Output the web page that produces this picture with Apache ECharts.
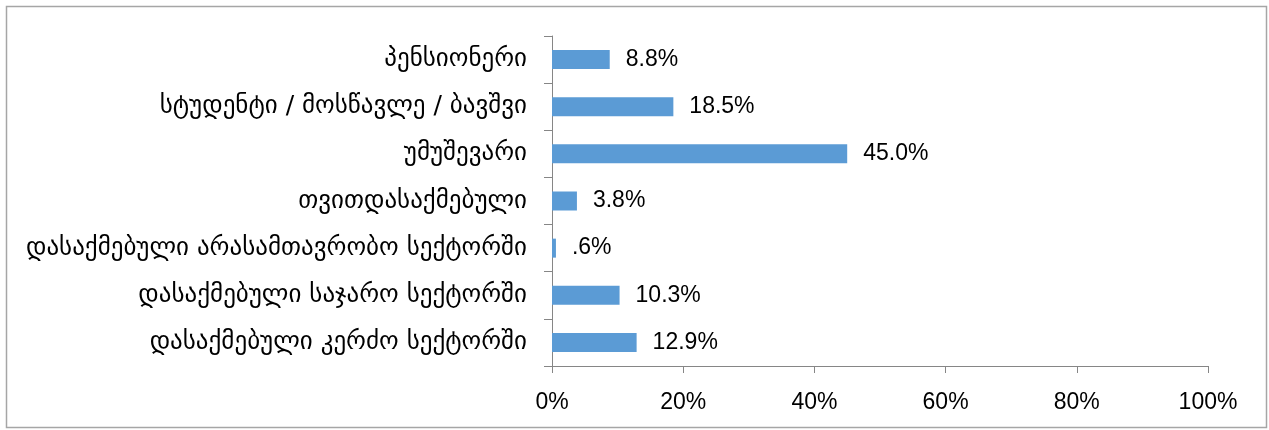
<!DOCTYPE html>
<html>
<head>
<meta charset="utf-8">
<script src="https://cdn.jsdelivr.net/npm/echarts@6/dist/echarts.min.js"></script>
<style>
  html, body { margin: 0; padding: 0; background: #fff; }
  #chart { width: 1269px; height: 430px; }
</style>
</head>
<body>
<div id="chart"></div>
<script>
// categories top to bottom
const categories = [
  'პენსიონერი',
  'სტუდენტი / მოსწავლე / ბავშვი',
  'უმუშევარი',
  'თვითდასაქმებული',
  'დასაქმებული არასამთავრობო სექტორში',
  'დასაქმებული საჯარო სექტორში',
  'დასაქმებული კერძო სექტორში'
]
const shares = [8.8, 18.5, 45.0, 3.8, 0.6, 10.3, 12.9]
const tickValues = [0, 20, 40, 60, 80, 100]

const chart = echarts.init(document.getElementById('chart'))

function pctLabel (v) {
  // excel style: 0.6 -> .6%
  let s = v.toFixed(1)
  if (s.startsWith('0.')) s = s.slice(1)
  return s + '%'
}

const option = {
  animation: false,
  graphic: [{
    type: 'rect',
    shape: { x: 6.5, y: 6.5, width: 1260, height: 421 },
    style: { fill: 'none', stroke: '#a6a6a6', lineWidth: 1.5 },
    silent: true
  }],
  grid: {
    left: 552,
    right: 61,
    top: 36,
    bottom: 64
  },
  xAxis: {
    type: 'value',
    min: tickValues[0],
    max: tickValues[tickValues.length - 1],
    interval: 20,
    splitLine: { show: false },
    axisLine: { show: true, lineStyle: { color: '#868686', width: 1 } },
    axisTick: { show: true, length: 7, lineStyle: { color: '#868686' } },
    axisLabel: {
      margin: 25,
      color: '#000',
      fontFamily: 'Liberation Sans',
      fontSize: 23,
      formatter: '{value}%'
    }
  },
  yAxis: {
    type: 'category',
    inverse: true,
    data: categories,
    axisLine: { show: true, lineStyle: { color: '#868686', width: 1 } },
    axisTick: { show: true, length: 8, lineStyle: { color: '#868686' } },
    axisLabel: {
      margin: 25,
      color: '#000',
      fontFamily: 'DejaVu Sans',
      fontSize: 25
    }
  },
  series: [{
    type: 'bar',
    data: shares,
    barWidth: 19,
    itemStyle: { color: '#5b9bd5' },
    label: {
      show: true,
      position: 'right',
      distance: 16,
      color: '#000',
      fontFamily: 'Liberation Sans',
      fontSize: 23,
      formatter: function (p) { return pctLabel(p.value) }
    }
  }]
}
chart.setOption(option)
</script>
</body>
</html>
